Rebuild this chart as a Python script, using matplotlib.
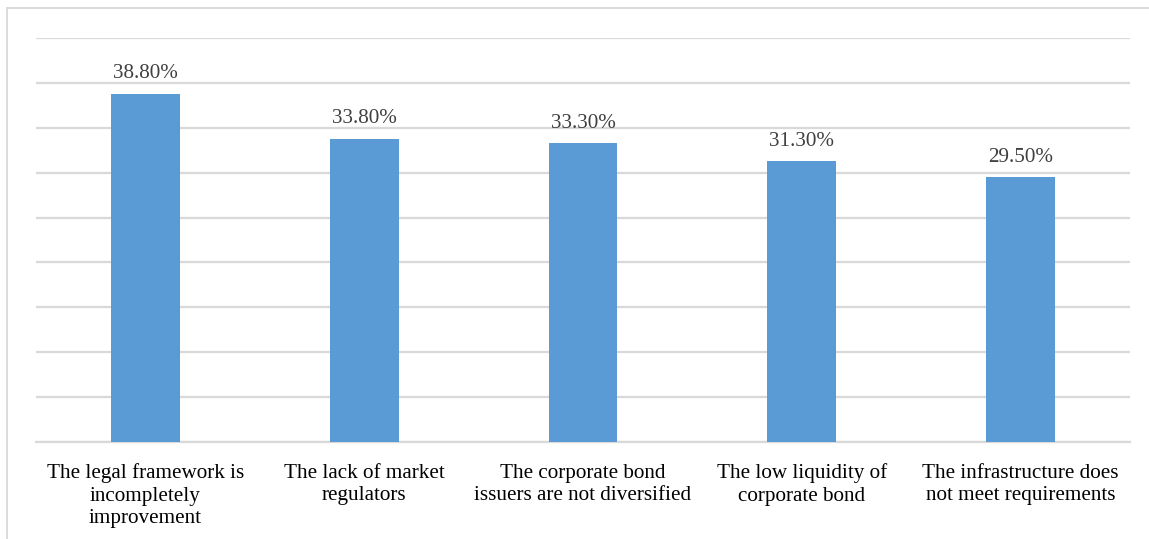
import matplotlib
matplotlib.use("Agg")
import matplotlib.pyplot as plt
from matplotlib.lines import Line2D

# ── data ────────────────────────────────────────────────────────────────────
categories = [
    "The legal framework is\nincompletely\nimprovement",
    "The lack of market\nregulators",
    "The corporate bond\nissuers are not diversified",
    "The low liquidity of\ncorporate bond",
    "The infrastructure does\nnot meet requirements",
]
values = [38.80, 33.80, 33.30, 31.30, 29.50]
value_labels = ["38.80%", "33.80%", "33.30%", "31.30%", "29.50%"]

BLUE, GRID, INK = "#5b9bd5", "#d9d9d9", "#000000"

plt.rcParams["font.family"] = ["Liberation Serif", "DejaVu Serif"]

W, H = 1149, 539
fig = plt.figure(figsize=(W / 100, H / 100), dpi=100)
ax = fig.add_axes([36 / W, 1 - 442 / H, (1130 - 36) / W, (442 - 38) / H])

x = range(len(values))
bars = ax.bar(x, values, width=0.315, color=BLUE, zorder=3)
for b, lab in zip(bars, value_labels):
    ax.annotate(lab, (b.get_x() + b.get_width() / 2, b.get_height()),
                xytext=(0, 7.5), textcoords="offset points",
                ha="center", va="bottom", fontsize=15.2, color="#404040")

ax.set_xlim(-0.5, len(values) - 0.5)
ax.set_ylim(0, 45)
ax.set_yticks(range(0, 46, 5))
ax.yaxis.grid(True, color=GRID, linewidth=1.6)
ax.set_axisbelow(True)
ax.tick_params(axis="y", left=False, labelleft=False)
ax.tick_params(axis="x", bottom=False, pad=12)
ax.set_xticks(list(x))
ax.set_xticklabels(categories, fontsize=15.2, color=INK, linespacing=1.25)
for s in ["top", "right", "left"]:
    ax.spines[s].set_visible(False)
ax.spines["bottom"].set_color(GRID)
ax.spines["bottom"].set_linewidth(1.6)

# chart border (top and left edges only show inside the canvas)
fig.add_artist(Line2D([7 / W, 1.01], [1 - 8 / H, 1 - 8 / H], color=GRID, linewidth=1.3))
fig.add_artist(Line2D([7 / W, 7 / W], [1 - 8 / H, -0.01], color=GRID, linewidth=1.3))

fig.savefig("out.png", dpi=100, facecolor="white")
